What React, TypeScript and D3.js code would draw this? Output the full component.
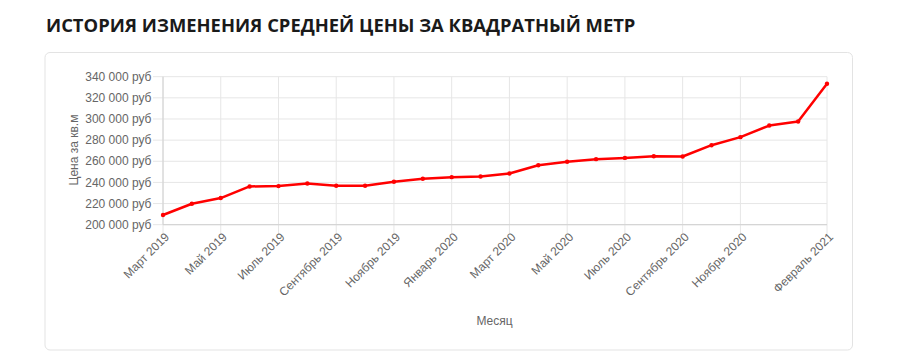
import React from "react";
import * as d3 from "d3";

const months = [
  "Март 2019", "Апрель 2019", "Май 2019", "Июнь 2019", "Июль 2019", "Август 2019",
  "Сентябрь 2019", "Октябрь 2019", "Ноябрь 2019", "Декабрь 2019", "Январь 2020", "Февраль 2020",
  "Март 2020", "Апрель 2020", "Май 2020", "Июнь 2020", "Июль 2020", "Август 2020",
  "Сентябрь 2020", "Октябрь 2020", "Ноябрь 2020", "Декабрь 2020", "Январь 2021", "Февраль 2021",
];
const prices = [
  209200, 219800, 225200, 236200, 236500, 239000,
  236800, 236800, 240600, 243400, 245000, 245600,
  248400, 256300, 259500, 262000, 263200, 264800,
  264500, 275200, 282800, 293800, 297600, 333400,
];
const shownTicks = [
  "Март 2019", "Май 2019", "Июль 2019", "Сентябрь 2019", "Ноябрь 2019", "Январь 2020",
  "Март 2020", "Май 2020", "Июль 2020", "Сентябрь 2020", "Ноябрь 2020", "Февраль 2021",
];
const yTicks = [200000, 220000, 240000, 260000, 280000, 300000, 320000, 340000];
const title = "ИСТОРИЯ ИЗМЕНЕНИЯ СРЕДНЕЙ ЦЕНЫ ЗА КВАДРАТНЫЙ МЕТР";
const yTitle = "Цена за кв.м";
const xTitle = "Месяц";

export default function App() {
  const W = 900, H = 361;
  const left = 163, right = 827, top = 76.7, bottom = 224.7;
  const x = d3.scalePoint<string>().domain(months).range([left, right]);
  const y = d3.scaleLinear().domain([200000, 340000]).range([bottom, top]);
  const fmt = (v: number) => d3.format(",")(v).replace(/,/g, " ") + " руб";
  const line = d3.line<number>().x((_, i) => x(months[i])!).y((d) => y(d));
  const grid = "#e6e6e6";
  const font = "'Liberation Sans', Arial, Helvetica, sans-serif";
  return (
    <svg width={W} height={H} style={{ position: "absolute", left: 0, top: 0 }}>
      <rect width={W} height={H} fill="#fff" />
      <text x={46} y={32} fontFamily="'Open Sans', sans-serif" fontWeight={700} fontSize={18.4} fill="#1a1a1a">
        {title}
      </text>
      <rect x={45} y={52.5} width={807.5} height={297.5} rx={5} fill="#fff" stroke="#e3e3e3" strokeWidth={1} />
      {yTicks.map((t) => (
        <g key={t}>
          <line x1={153} x2={right} y1={y(t)} y2={y(t)} stroke={grid} strokeWidth={1} />
          <text x={151.5} y={y(t)} dy="0.35em" textAnchor="end" fontFamily={font} fontSize={12} fill="#666">
            {fmt(t)}
          </text>
        </g>
      ))}
      {shownTicks.map((m) => (
        <g key={m}>
          <line x1={x(m)} x2={x(m)} y1={top} y2={bottom + 10} stroke={grid} strokeWidth={1} />
          <text
            transform={`translate(${x(m)! + 4},${bottom + 10}) rotate(-45)`}
            textAnchor="end"
            dy="0.35em"
            fontFamily={font}
            fontSize={12}
            fill="#666"
          >
            {m}
          </text>
        </g>
      ))}
      <line x1={left} x2={left} y1={top} y2={bottom} stroke="#d0d0d0" />
      <line x1={left} x2={right} y1={bottom} y2={bottom} stroke="#d0d0d0" />
      <text
        transform={`translate(78,150) rotate(-90)`}
        textAnchor="middle"
        fontFamily={font}
        fontSize={12}
        fill="#666"
      >
        {yTitle}
      </text>
      <text x={494.5} y={324.5} textAnchor="middle" fontFamily={font} fontSize={12} fill="#666">
        {xTitle}
      </text>
      <path d={line(prices)!} fill="none" stroke="#ff0000" strokeWidth={2.5} strokeLinejoin="round" />
      {prices.map((p, i) => (
        <circle key={i} cx={x(months[i])} cy={y(p)} r={2.2} fill="#ff0000" />
      ))}
    </svg>
  );
}
